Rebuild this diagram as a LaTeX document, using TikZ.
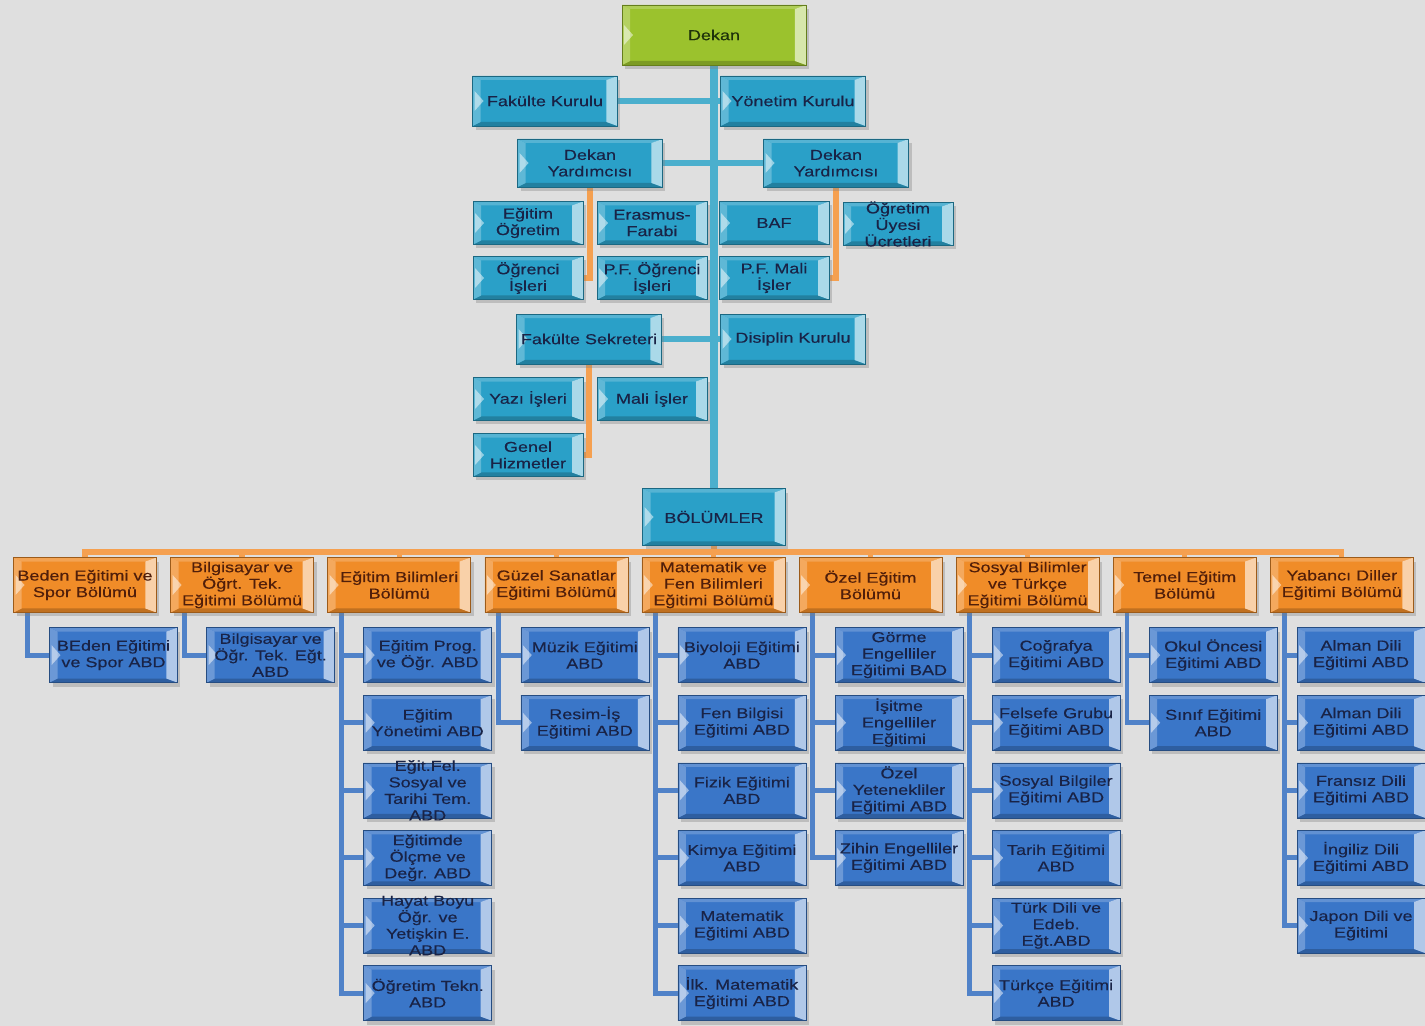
\documentclass[tikz,border=0pt]{standalone}
\usepackage{fontspec}
\setmainfont[FakeStretch=1.25,FakeBold=0.3]{Liberation Sans}
\usetikzlibrary{shadows}
\definecolor{bgc}{RGB}{223,223,223}
\definecolor{greenc}{RGB}{155,194,45}
\definecolor{tealc}{RGB}{42,160,200}
\definecolor{bluec}{RGB}{58,118,200}
\definecolor{orgc}{RGB}{240,140,40}
\definecolor{tlc}{RGB}{75,175,205}
\definecolor{olc}{RGB}{245,160,80}
\definecolor{blc}{RGB}{80,130,200}
\definecolor{txtc}{RGB}{25,35,70}
\definecolor{otxt}{RGB}{80,30,10}
\definecolor{gtxt}{RGB}{30,50,10}
\pgfdeclarelayer{bg}
\pgfdeclarelayer{lines}
\pgfsetlayers{bg,lines,main}

\begin{document}
\begin{tikzpicture}[x=0.02cm,y=-0.02cm,
  bev/.style={draw=#1!65!black,line width=.3pt,fill=#1,align=center,
    inner xsep=1pt,inner ysep=-4pt,font=\fontsize{8.2}{9.4}\selectfont,
    drop shadow={shadow xshift=.06cm,shadow yshift=-.08cm,opacity=.35,path picture={}},
    path picture={
      \fill[#1!80!black] (path picture bounding box.south west) -- ([shift={(.16cm,.08cm)}]path picture bounding box.south west)
        -- ([shift={(-.22cm,.08cm)}]path picture bounding box.south east) -- (path picture bounding box.south east) -- cycle;
      \fill[#1!80!white] (path picture bounding box.north west) -- ([shift={(.16cm,-.08cm)}]path picture bounding box.north west)
        -- ([shift={(-.22cm,-.08cm)}]path picture bounding box.north east) -- (path picture bounding box.north east) -- cycle;
      \fill[#1!75!white] (path picture bounding box.north west) -- ([shift={(.16cm,-.08cm)}]path picture bounding box.north west)
        -- ([shift={(.16cm,.08cm)}]path picture bounding box.south west) -- (path picture bounding box.south west) -- cycle;
      \fill[#1!40!white] (path picture bounding box.north east) -- ([shift={(-.22cm,-.08cm)}]path picture bounding box.north east)
        -- ([shift={(-.22cm,.08cm)}]path picture bounding box.south east) -- (path picture bounding box.south east) -- cycle;
      \fill[white,opacity=.5] ([shift={(.04cm,.2cm)}]path picture bounding box.west) -- ([shift={(.22cm,0cm)}]path picture bounding box.west)
        -- ([shift={(.04cm,-.2cm)}]path picture bounding box.west) -- cycle;
    }},
  dekan/.style={bev=greenc,text=gtxt,minimum width=3.68cm,minimum height=1.2cm},
  kurul/.style={bev=tealc,text=txtc,minimum width=2.9cm,minimum height=1cm},
  unit/.style={bev=tealc,text=txtc,minimum width=2.2cm,minimum height=.86cm},
  dept/.style={bev=orgc,text=otxt,minimum width=2.86cm,minimum height=1.1cm},
  abd/.style={bev=bluec,text=txtc,minimum width=2.56cm,minimum height=1.1cm},
  tline/.style={draw=tlc,line width=3.5pt},
  oline/.style={draw=olc,line width=3.5pt},
  bline/.style={draw=blc,line width=2.8pt}]
  \useasboundingbox (0,0) rectangle (1425,1026);
  \begin{pgfonlayer}{bg}
    \fill[bgc] (0,0) rectangle (1425,1026);
  \end{pgfonlayer}

  \node[dekan] (dekan) at (714,35) {Dekan};
  \node[kurul] (fk) at (545,101) {Fakülte Kurulu};
  \node[kurul] (yk) at (793,101) {Yönetim Kurulu};
  \node[kurul,minimum height=.96cm] (dy1) at (590,163) {Dekan\\Yardımcısı};
  \node[kurul,minimum height=.96cm] (dy2) at (836,163) {Dekan\\Yardımcısı};
  \node[unit] (eo) at (528,223) {Eğitim\\Öğretim};
  \node[unit] (ef) at (652,223) {Erasmus-\\Farabi};
  \node[unit] (baf) at (774,223) {BAF};
  \node[unit] (ouu) at (898,224) {Öğretim\\Üyesi\\Ücretleri};
  \node[unit] (oi) at (528,278) {Öğrenci\\İşleri};
  \node[unit] (pfo) at (652,278) {P.F. Öğrenci\\İşleri};
  \node[unit] (pfm) at (774,278) {P.F. Mali\\İşler};
  \node[kurul] (fs) at (589,339) {Fakülte Sekreteri};
  \node[kurul] (dk) at (793,339) {Disiplin Kurulu};
  \node[unit] (yi) at (528,399) {Yazı İşleri};
  \node[unit] (mi) at (652,399) {Mali İşler};
  \node[unit] (gh) at (528,455) {Genel\\Hizmetler};
  \node[kurul,minimum width=2.86cm,minimum height=1.14cm] (bol) at (714,517) {BÖLÜMLER};

  \foreach \i/\t in {1/Beden Eğitimi ve\\Spor Bölümü, 2/Bilgisayar ve\\Öğrt. Tek.\\Eğitimi Bölümü,
      3/Eğitim Bilimleri\\Bölümü, 4/Güzel Sanatlar\\Eğitimi Bölümü, 5/Matematik ve\\Fen Bilimleri\\Eğitimi Bölümü,
      6/Özel Eğitim\\Bölümü, 7/Sosyal Bilimler\\ve Türkçe\\Eğitimi Bölümü, 8/Temel Eğitim\\Bölümü,
      9/Yabancı Diller\\Eğitimi Bölümü}
    \node[dept] (d\i) at ({85+157.1*(\i-1)},585) {\t};

  \foreach \i/\j/\t in {1/1/BEden Eğitimi\\ve Spor ABD, 2/1/Bilgisayar ve\\Öğr. Tek. Eğt.\\ABD,
      3/1/Eğitim Prog.\\ve Öğr. ABD, 3/2/Eğitim\\Yönetimi ABD, 3/3/Eğit.Fel.\\Sosyal ve\\Tarihi Tem.\\ABD,
      3/4/Eğitimde\\Ölçme ve\\Değr. ABD, 3/5/Hayat Boyu\\Öğr. ve\\Yetişkin E.\\ABD, 3/6/Öğretim Tekn.\\ABD,
      4/1/Müzik Eğitimi\\ABD, 4/2/Resim-İş\\Eğitimi ABD,
      5/1/Biyoloji Eğitimi\\ABD, 5/2/Fen Bilgisi\\Eğitimi ABD, 5/3/Fizik Eğitimi\\ABD, 5/4/Kimya Eğitimi\\ABD,
      5/5/Matematik\\Eğitimi ABD, 5/6/İlk. Matematik\\Eğitimi ABD,
      6/1/Görme\\Engelliler\\Eğitimi BAD, 6/2/İşitme\\Engelliler\\Eğitimi, 6/3/Özel\\Yetenekliler\\Eğitimi ABD,
      6/4/Zihin Engelliler\\Eğitimi ABD,
      7/1/Coğrafya\\Eğitimi ABD, 7/2/Felsefe Grubu\\Eğitimi ABD, 7/3/Sosyal Bilgiler\\Eğitimi ABD,
      7/4/Tarih Eğitimi\\ABD, 7/5/Türk Dili ve\\Edeb.\\Eğt.ABD, 7/6/Türkçe Eğitimi\\ABD,
      8/1/Okul Öncesi\\Eğitimi ABD, 8/2/Sınıf Eğitimi\\ABD,
      9/1/Alman Dili\\Eğitimi ABD, 9/2/Alman Dili\\Eğitimi ABD, 9/3/Fransız Dili\\Eğitimi ABD,
      9/4/İngiliz Dili\\Eğitimi ABD, 9/5/Japon Dili ve\\Eğitimi}
    \node[abd] (c\i-\j) at ({min(85+157.1*(\i-1)+28.5,1361)},{587.5+67.6*\j}) {\t};

  \begin{pgfonlayer}{lines}
    \draw[tline,line width=5pt] (dekan.south) -- (bol.north);
    \draw[tline] (fk.east) -- (fk.east -| dekan.south);
    \draw[tline] (yk.west) -- (yk.west -| dekan.south);
    \draw[tline] (dy1.east) -- (dy2.west);
    \draw[tline] (fs.east) -- (dk.west);
    \draw[oline] (dy1.south) |- (oi.east);
    \draw[oline] (dy2.south) |- (pfm.east);
    \draw[oline] (fs.south) |- (gh.east);
    \coordinate (bus) at (714,552);
    \draw[oline,line width=3pt] (d1.north) |- (bus) -| (d9.north);
    \draw[oline,line width=3pt] (bol.south) -- (bus);
    \foreach \i in {2,...,8} \draw[oline,line width=3pt] (d\i.north) -- (d\i.north |- bus);
    \foreach \i/\n in {1/1,2/1,3/6,4/2,5/6,6/4,7/6,8/2,9/5}{
      \coordinate (t\i) at ([xshift=.28cm]d\i.south west);
      \draw[bline] (t\i) |- (c\i-\n.west);
      \foreach \j in {1,...,\n} \draw[bline] (c\i-\j.west) -- (c\i-\j.west -| t\i);
    }
  \end{pgfonlayer}
\end{tikzpicture}
\end{document}
